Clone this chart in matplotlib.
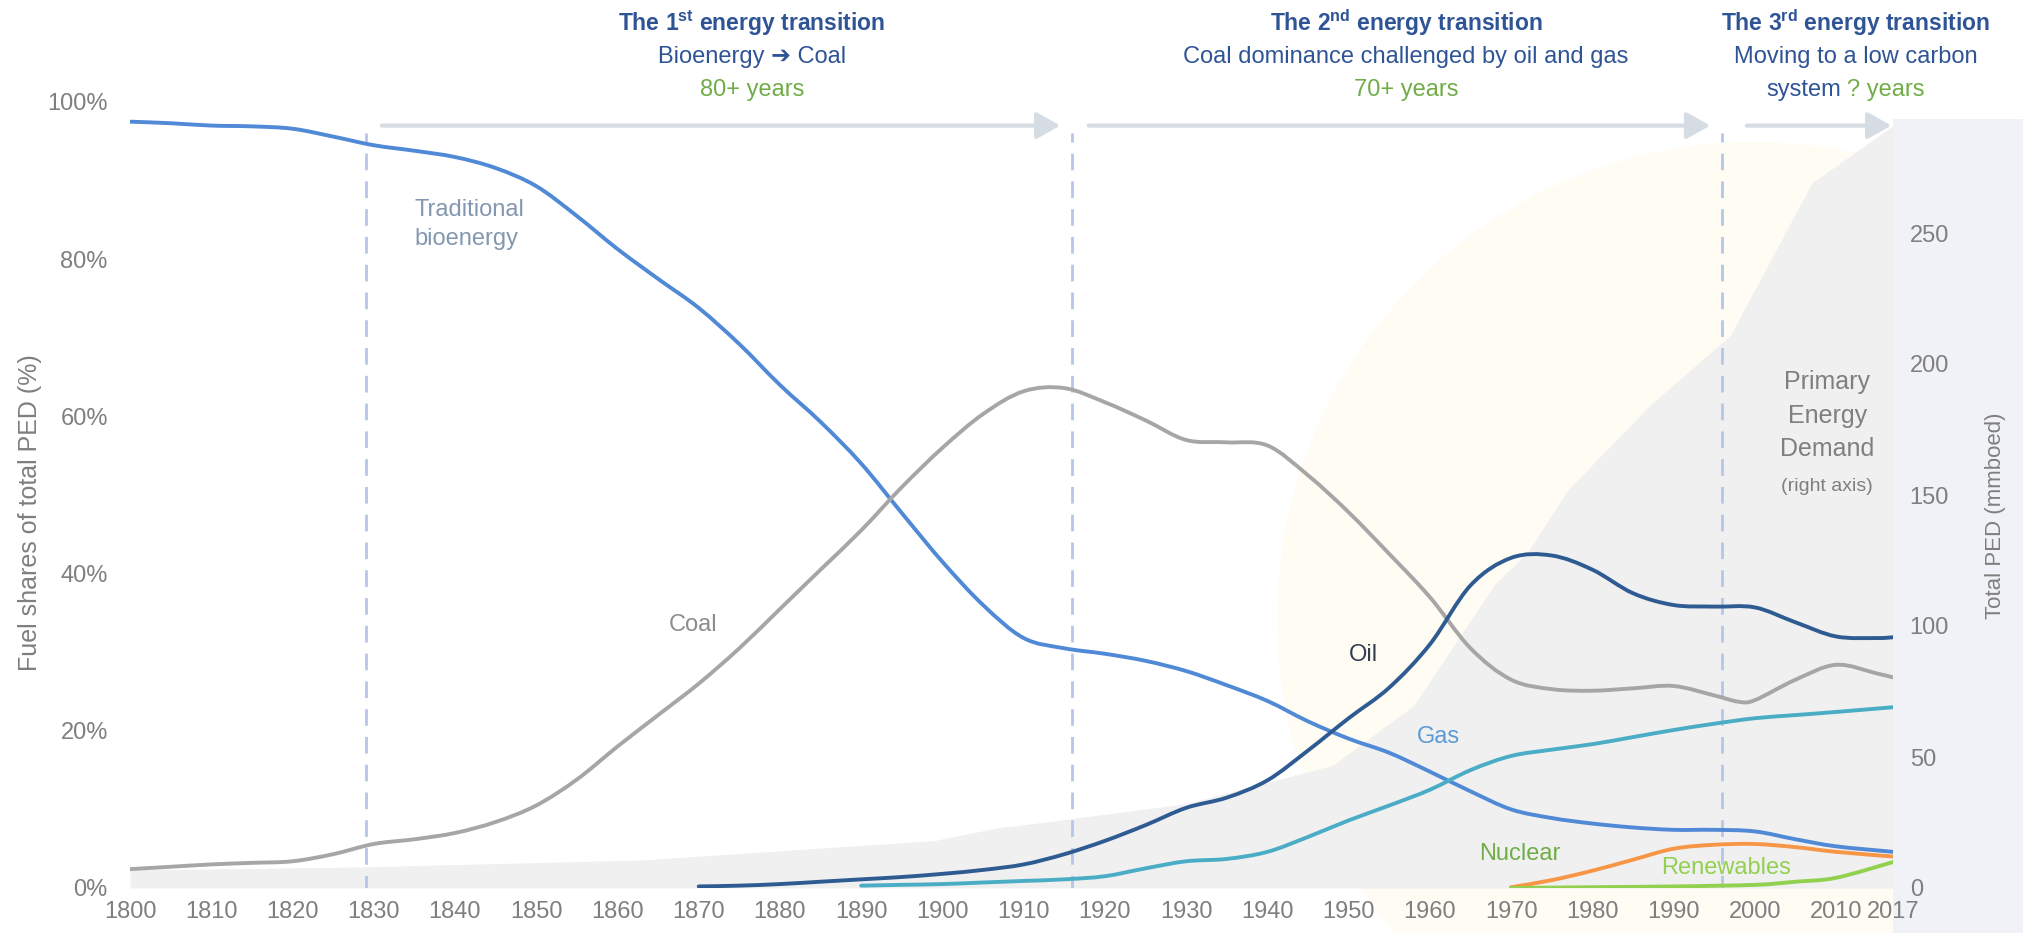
import matplotlib
matplotlib.use("Agg")
import matplotlib.pyplot as plt
from matplotlib.patches import Ellipse, Rectangle, PathPatch
from matplotlib.path import Path

plt.rcParams['font.family'] = ['Liberation Sans', 'DejaVu Sans']
plt.rcParams['mathtext.fontset'] = 'custom'
plt.rcParams['mathtext.rm'] = 'Liberation Sans'
plt.rcParams['mathtext.bf'] = 'Liberation Sans:bold'

# fuel shares of total PED (%)
bio_years = [1800, 1805, 1810, 1815, 1820, 1825, 1830, 1835, 1840, 1845, 1850, 1855, 1860,
             1865, 1870, 1875, 1880, 1885, 1890, 1895, 1900, 1905, 1910, 1915, 1920, 1925,
             1930, 1935, 1940, 1945, 1950, 1955, 1960, 1965, 1970, 1975, 1980, 1985, 1990,
             1995, 2000, 2005, 2010, 2017]
bio = [97.5, 97.3, 97.0, 96.9, 96.6, 95.6, 94.5, 93.8, 93.0, 91.6, 89.3, 85.5, 81.3,
       77.5, 73.8, 69.2, 64.0, 59.3, 54.0, 47.7, 41.5, 36.0, 31.8, 30.5, 29.8, 28.9,
       27.6, 25.8, 23.8, 21.2, 19.0, 17.2, 14.8, 12.3, 10.0, 8.9, 8.2, 7.7, 7.4,
       7.4, 7.2, 6.2, 5.3, 4.6]

coal_years = [1800, 1805, 1810, 1815, 1820, 1825, 1830, 1835, 1840, 1845, 1850, 1855, 1860,
              1865, 1870, 1875, 1880, 1885, 1890, 1895, 1900, 1905, 1910, 1915, 1920, 1925,
              1930, 1935, 1940, 1945, 1950, 1955, 1960, 1965, 1970, 1975, 1980, 1985, 1990,
              1995, 1998, 2000, 2005, 2010, 2015, 2017]
coal = [2.4, 2.7, 3.0, 3.2, 3.4, 4.3, 5.6, 6.2, 7.0, 8.4, 10.5, 13.8, 18.0,
        22.0, 26.0, 30.5, 35.5, 40.5, 45.5, 51.0, 56.0, 60.3, 63.2, 63.6, 61.8, 59.5,
        57.0, 56.7, 56.3, 52.5, 47.8, 42.5, 37.0, 30.5, 26.5, 25.3, 25.1, 25.4, 25.7,
        24.5, 23.7, 23.9, 26.5, 28.4, 27.3, 26.8]

oil_years = [1870, 1875, 1880, 1885, 1890, 1895, 1900, 1905, 1910, 1915, 1920, 1925, 1930,
             1935, 1940, 1945, 1950, 1955, 1960, 1965, 1970, 1975, 1980, 1985, 1990, 1995,
             2000, 2005, 2010, 2015, 2017]
oil = [0.2, 0.3, 0.5, 0.8, 1.1, 1.4, 1.8, 2.3, 3.0, 4.3, 6.0, 8.0, 10.2,
       11.5, 13.7, 17.5, 21.6, 25.5, 31.0, 38.5, 42.0, 42.3, 40.5, 37.5, 36.0, 35.8,
       35.7, 33.8, 32.0, 31.8, 31.9]

gas_years = [1890, 1895, 1900, 1905, 1910, 1915, 1920, 1925, 1930, 1935, 1940, 1945, 1950,
             1955, 1960, 1965, 1970, 1975, 1980, 1985, 1990, 1995, 2000, 2005, 2010, 2017]
gas = [0.3, 0.4, 0.5, 0.7, 0.9, 1.1, 1.5, 2.5, 3.4, 3.7, 4.6, 6.5, 8.6,
       10.5, 12.5, 15.0, 16.8, 17.6, 18.3, 19.2, 20.1, 20.9, 21.6, 22.0, 22.4, 23.0]

nuc_years = [1970, 1975, 1980, 1985, 1990, 1995, 2000, 2005, 2010, 2017]
nuclear = [0.1, 1.0, 2.2, 3.6, 5.0, 5.5, 5.6, 5.2, 4.6, 4.0]

ren_years = [1970, 1980, 1990, 2000, 2005, 2010, 2017]
renewables = [0.0, 0.1, 0.2, 0.4, 0.8, 1.3, 3.3]

# total primary energy demand (mmboed, right axis)
ped_years = [1800, 1828, 1863, 1899, 1907, 1911, 1930, 1948, 1958, 1968, 1972, 1977, 1987,
             1997, 2007, 2017]
ped = [6.9, 8.0, 10.7, 18.1, 23.1, 24.5, 32.2, 46.8, 69.6, 116, 128, 152, 184,
       211, 269, 291]

transition_years = [1829, 1916, 1996]
arrows = [(1831, 1914.5), (1918, 1994.5), (1999, 2016.8)]

C_BIO = '#5089d6'
C_COAL = '#a6a6a6'
C_OIL = '#2f5b93'
C_GAS = '#4bacc6'
C_NUC = '#f79646'
C_REN = '#92d050'
C_TXT = '#7f7f7f'
C_TITLE = '#2f5496'
C_GREEN = '#70ad47'
FS = 17


def smooth_line(ax, xs, ys, color):
    # excel-style smoothed line through the data points
    n = len(xs)
    verts = [(xs[0], ys[0])]
    codes = [Path.MOVETO]
    for i in range(n - 1):
        a, b = max(i - 1, 0), min(i + 2, n - 1)
        c1 = (xs[i] + (xs[i + 1] - xs[a]) / 6, ys[i] + (ys[i + 1] - ys[a]) / 6)
        c2 = (xs[i + 1] - (xs[b] - xs[i]) / 6, ys[i + 1] - (ys[b] - ys[i]) / 6)
        verts += [c1, c2, (xs[i + 1], ys[i + 1])]
        codes += [Path.CURVE4] * 3
    ax.add_patch(PathPatch(Path(verts, codes), fill=False, edgecolor=color, lw=2.8,
                           capstyle='round', joinstyle='round', zorder=3))


W, H = 2023, 933
fig = plt.figure(figsize=(W / 100, H / 100), dpi=100)

# faint background decoration
fig.patches.append(Ellipse((1754 / W, 314 / H), 954 / W, 954 / H, transform=fig.transFigure,
                           facecolor='#fffcf3', edgecolor='none', zorder=-3))
fig.patches.append(Rectangle((1893 / W, 0), (W - 1893) / W, (H - 119) / H, transform=fig.transFigure,
                             facecolor='#f0f2f7', edgecolor='none', zorder=-2))

ax = fig.add_axes([130 / W, 45 / H, (1893 - 130) / W, (888 - 102) / H])
ax2 = ax.twinx()
ax.set_zorder(ax2.get_zorder() + 1)
ax.patch.set_visible(False)
ax2.patch.set_visible(False)

ax2.fill_between(ped_years, ped, color='#f0f0f0', lw=0)
ax2.set_ylim(0, 300)
ax2.set_yticks([0, 50, 100, 150, 200, 250])

smooth_line(ax, bio_years, bio, C_BIO)
smooth_line(ax, coal_years, coal, C_COAL)
smooth_line(ax, oil_years, oil, C_OIL)
smooth_line(ax, gas_years, gas, C_GAS)
smooth_line(ax, nuc_years, nuclear, C_NUC)
smooth_line(ax, ren_years, renewables, C_REN)

ax.vlines(transition_years, -0.5, 96, colors='#b4c7e7', linestyles=(0, (6, 4)), lw=2, zorder=1)
for x0, x1 in arrows:
    ax.annotate('', xy=(x1, 97), xytext=(x0, 97), annotation_clip=False,
                arrowprops=dict(arrowstyle='-|>,head_length=0.8,head_width=0.45',
                                color='#d6dce4', lw=3, mutation_scale=18, shrinkA=0, shrinkB=0))

ax.set_xlim(1800, 2017)
ax.set_ylim(0, 100)
ax.set_xticks(list(range(1800, 2011, 10)) + [2017])
ax.set_yticks(range(0, 101, 20))
ax.set_yticklabels([f'{v}%' for v in range(0, 101, 20)])

for a in (ax, ax2):
    for s in a.spines.values():
        s.set_visible(False)
ax.tick_params(axis='both', length=0, labelsize=FS, labelcolor=C_TXT)
ax.tick_params(axis='x', pad=9)
ax.tick_params(axis='y', pad=16)
ax2.tick_params(axis='y', length=0, labelsize=FS, labelcolor=C_TXT, pad=12)

ax.set_ylabel('Fuel shares of total PED (%)', fontsize=18, color=C_TXT)
ax.yaxis.set_label_coords(-0.050, 0.478)
ax2.set_ylabel('Total PED (mmboed)', fontsize=16, color=C_TXT)
ax2.yaxis.set_label_coords(1.052, 0.473)

# series labels
ax.text(1835, 84.4, 'Traditional\nbioenergy', fontsize=FS, color='#8497b0', ha='left', va='center',
        linespacing=1.4)
ax.text(1869.3, 33.5, 'Coal', fontsize=FS, color='#8c8c8c', ha='center', va='center')
ax.text(1951.8, 29.7, 'Oil', fontsize=FS, color='#333f50', ha='center', va='center')
ax.text(1961.1, 19.2, 'Gas', fontsize=FS, color='#5b9bd5', ha='center', va='center')
ax.text(1971.1, 4.3, 'Nuclear', fontsize=FS, color=C_GREEN, ha='center', va='center')
ax.text(1996.5, 2.6, 'Renewables', fontsize=FS, color=C_REN, ha='center', va='center')
ax.text(2008.9, 60.1, 'Primary\nEnergy\nDemand', fontsize=FS + 1, color=C_TXT, ha='center', va='center',
        linespacing=1.5)
ax.text(2008.9, 51.1, '(right axis)', fontsize=14, color=C_TXT, ha='center', va='center')


def ftext(x, y, s, **kw):
    fig.text(x / W, 1 - y / H, s, va='center', **kw)


ftext(752, 23, r'The 1$^{\mathbf{st}}$ energy transition', fontsize=16.5, weight='bold', color=C_TITLE, ha='center')
ftext(752, 57, 'Bioenergy ➔ Coal', fontsize=FS, color=C_TITLE, ha='center')
ftext(752, 90, '80+ years', fontsize=FS, color=C_GREEN, ha='center')

ftext(1406, 23, r'The 2$^{\mathbf{nd}}$ energy transition', fontsize=16.5, weight='bold', color=C_TITLE, ha='center')
ftext(1406, 57, 'Coal dominance challenged by oil and gas', fontsize=FS, color=C_TITLE, ha='center')
ftext(1406, 90, '70+ years', fontsize=FS, color=C_GREEN, ha='center')

ftext(1856, 23, r'The 3$^{\mathbf{rd}}$ energy transition', fontsize=16.5, weight='bold', color=C_TITLE, ha='center')
ftext(1856, 57, 'Moving to a low carbon', fontsize=FS, color=C_TITLE, ha='center')
ftext(1841, 90, 'system', fontsize=FS, color=C_TITLE, ha='right')
ftext(1847, 90, '? years', fontsize=FS, color=C_GREEN, ha='left')

fig.savefig('out.png', dpi=100)
